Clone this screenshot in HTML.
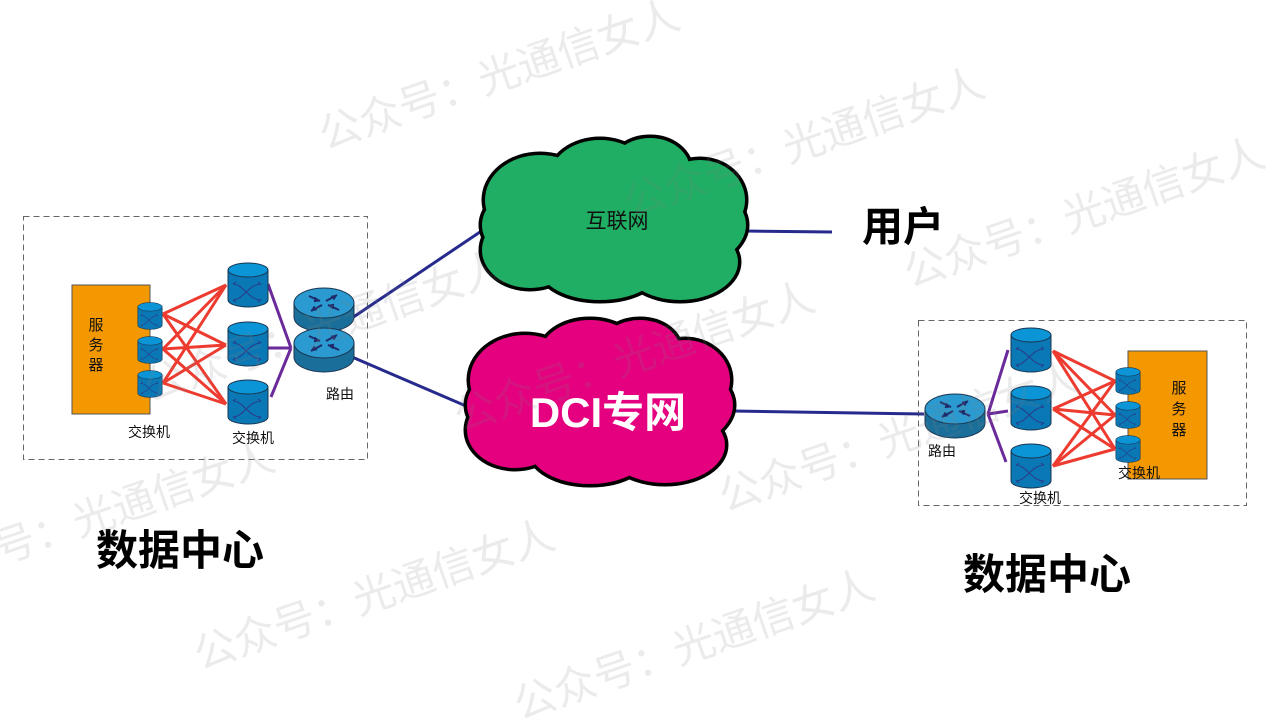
<!DOCTYPE html>
<html><head><meta charset="utf-8"><style>
html,body{margin:0;padding:0;background:#fff;}
svg{display:block;font-family:"Liberation Sans","Noto Sans CJK SC",sans-serif;}
</style></head><body>
<svg width="1280" height="720" viewBox="0 0 1280 720" xmlns="http://www.w3.org/2000/svg">
<defs>
 <symbol id="sw" viewBox="0 0 42 46" overflow="visible">
  <path d="M1,8 L1,38 A20,7 0 0 0 41,38 L41,8 Z" fill="#0a78b4" stroke="#1a3550" stroke-width="1"/>
  <ellipse cx="21" cy="8" rx="20" ry="7" fill="#0b95d6" stroke="#1a3550" stroke-width="1"/>
  <path d="M6,22 C16,22 22,38 34,38 M6,38 C16,38 22,22 34,22" fill="none" stroke="#2a3a8a" stroke-width="1"/>
  <path d="M6,22 l3,-2 M6,38 l3,2 M34,22 l-3,-2 M34,38 l-3,2" stroke="#2a3a8a" stroke-width="1"/>
 </symbol>
 <symbol id="rt" viewBox="0 0 62 46" overflow="visible">
  <path d="M1,16 L1,30 A30,15 0 0 0 61,30 L61,16 Z" fill="#1a6e9a" stroke="#1a3550" stroke-width="1"/>
  <ellipse cx="31" cy="16" rx="30" ry="15" fill="#2a9ad0" stroke="#1a3550" stroke-width="1"/>
  <g stroke="#1e2a6a" stroke-width="2" fill="#1e2a6a">
   <line x1="16" y1="9" x2="27" y2="14"/><line x1="46" y1="23" x2="35" y2="18"/>
   <line x1="44" y1="8" x2="33" y2="14"/><line x1="18" y1="24" x2="29" y2="18"/>
   <path d="M27,14 l-5,-4 l-1,5z" stroke-width="0.5"/><path d="M35,18 l5,4 l1,-5z" stroke-width="0.5"/>
   <path d="M44,8 l-6,1 l3,4z" stroke-width="0.5"/><path d="M18,24 l6,-1 l-3,-4z" stroke-width="0.5"/>
  </g>
 </symbol>
</defs>

<!-- dashed boxes -->
<rect x="23.5" y="216.5" width="344" height="243" fill="none" stroke="#666" stroke-dasharray="6,4"/>
<rect x="918.5" y="320.5" width="328" height="185" fill="none" stroke="#666" stroke-dasharray="6,4"/>

<!-- navy links -->
<g stroke="#262a8c" stroke-width="3">
 <line x1="352" y1="318" x2="480" y2="232"/>
 <line x1="352" y1="357" x2="466" y2="406"/>
 <line x1="745" y1="231" x2="832" y2="232"/>
 <line x1="733" y1="411" x2="924" y2="414"/>
</g>

<!-- clouds -->
<g stroke="#000" stroke-width="7">
 <ellipse cx="614" cy="225" rx="132" ry="60"/>
 <ellipse cx="540" cy="200" rx="55" ry="45"/>
 <ellipse cx="600" cy="178" rx="50" ry="38"/>
 <ellipse cx="650" cy="170" rx="40" ry="32"/>
 <ellipse cx="700" cy="200" rx="45" ry="40"/>
 <ellipse cx="530" cy="250" rx="48" ry="38"/>
 <ellipse cx="600" cy="268" rx="60" ry="32"/>
 <ellipse cx="680" cy="262" rx="58" ry="38"/>
 <ellipse cx="600" cy="405" rx="133" ry="60"/>
 <ellipse cx="525" cy="380" rx="55" ry="45"/>
 <ellipse cx="590" cy="355" rx="50" ry="35"/>
 <ellipse cx="640" cy="350" rx="40" ry="30"/>
 <ellipse cx="685" cy="380" rx="45" ry="40"/>
 <ellipse cx="515" cy="430" rx="48" ry="38"/>
 <ellipse cx="590" cy="450" rx="60" ry="34"/>
 <ellipse cx="665" cy="445" rx="60" ry="38"/>
</g>
<g fill="#1fae63">
 <ellipse cx="614" cy="225" rx="132" ry="60"/>
 <ellipse cx="540" cy="200" rx="55" ry="45"/>
 <ellipse cx="600" cy="178" rx="50" ry="38"/>
 <ellipse cx="650" cy="170" rx="40" ry="32"/>
 <ellipse cx="700" cy="200" rx="45" ry="40"/>
 <ellipse cx="530" cy="250" rx="48" ry="38"/>
 <ellipse cx="600" cy="268" rx="60" ry="32"/>
 <ellipse cx="680" cy="262" rx="58" ry="38"/>
</g>
<g fill="#e4007f">
 <ellipse cx="600" cy="405" rx="133" ry="60"/>
 <ellipse cx="525" cy="380" rx="55" ry="45"/>
 <ellipse cx="590" cy="355" rx="50" ry="35"/>
 <ellipse cx="640" cy="350" rx="40" ry="30"/>
 <ellipse cx="685" cy="380" rx="45" ry="40"/>
 <ellipse cx="515" cy="430" rx="48" ry="38"/>
 <ellipse cx="590" cy="450" rx="60" ry="34"/>
 <ellipse cx="665" cy="445" rx="60" ry="38"/>
</g>
<text x="617" y="228" font-size="21" text-anchor="middle" fill="#111">互联网</text>
<text x="608" y="427" font-size="42" font-weight="bold" text-anchor="middle" fill="#fff">DCI专网</text>
<text x="903" y="241" font-size="41" font-weight="bold" text-anchor="middle" fill="#000">用户</text>

<!-- LEFT DC -->
<rect x="72" y="285" width="78" height="129" fill="#f39800" stroke="#555"/>
<g font-size="15" fill="#111" text-anchor="middle">
 <text x="96" y="330">服</text><text x="96" y="350">务</text><text x="96" y="370">器</text>
</g>
<g stroke="#ee3b30" stroke-width="3">
 <line x1="163" y1="314" x2="226" y2="285"/><line x1="163" y1="314" x2="226" y2="345"/><line x1="163" y1="314" x2="226" y2="404"/>
 <line x1="163" y1="349" x2="226" y2="285"/><line x1="163" y1="349" x2="226" y2="345"/><line x1="163" y1="349" x2="226" y2="404"/>
 <line x1="163" y1="383" x2="226" y2="285"/><line x1="163" y1="383" x2="226" y2="345"/><line x1="163" y1="383" x2="226" y2="404"/>
</g>
<g stroke="#6a2a9a" stroke-width="3" fill="none">
 <line x1="268" y1="284" x2="291" y2="348"/><line x1="268" y1="348" x2="291" y2="348"/><line x1="271" y1="397" x2="291" y2="348"/>
</g>
<use href="#sw" x="137" y="302" width="26" height="28"/>
<use href="#sw" x="137" y="336" width="26" height="28"/>
<use href="#sw" x="137" y="370" width="26" height="28"/>
<use href="#sw" x="226" y="262" width="44" height="46"/>
<use href="#sw" x="226" y="321" width="44" height="46"/>
<use href="#sw" x="226" y="379" width="44" height="46"/>
<use href="#rt" x="292" y="287" width="64" height="46"/>
<use href="#rt" x="292" y="327" width="64" height="46"/>
<g font-size="14" fill="#111" text-anchor="middle">
 <text x="149" y="437">交换机</text>
 <text x="253" y="443">交换机</text>
 <text x="340" y="399">路由</text>
</g>
<text x="180" y="565" font-size="42" font-weight="bold" text-anchor="middle" fill="#000">数据中心</text>

<!-- RIGHT DC -->
<rect x="1128" y="351" width="79" height="128" fill="#f39800" stroke="#555"/>
<g font-size="15" fill="#111" text-anchor="middle">
 <text x="1179" y="393">服</text><text x="1179" y="414">务</text><text x="1179" y="435">器</text>
</g>
<g stroke="#ee3b30" stroke-width="3">
 <line x1="1053" y1="351" x2="1115" y2="381"/><line x1="1053" y1="351" x2="1115" y2="415"/><line x1="1053" y1="351" x2="1115" y2="449"/>
 <line x1="1053" y1="409" x2="1115" y2="381"/><line x1="1053" y1="409" x2="1115" y2="415"/><line x1="1053" y1="409" x2="1115" y2="449"/>
 <line x1="1053" y1="466" x2="1115" y2="381"/><line x1="1053" y1="466" x2="1115" y2="415"/><line x1="1053" y1="466" x2="1115" y2="449"/>
</g>
<g stroke="#6a2a9a" stroke-width="3" fill="none">
 <line x1="1008" y1="350" x2="988" y2="414"/><line x1="1008" y1="411" x2="988" y2="414"/><line x1="1006" y1="462" x2="988" y2="414"/>
</g>
<use href="#sw" x="1009" y="327" width="44" height="46"/>
<use href="#sw" x="1009" y="385" width="44" height="46"/>
<use href="#sw" x="1009" y="443" width="44" height="46"/>
<use href="#sw" x="1115" y="367" width="26" height="28"/>
<use href="#sw" x="1115" y="401" width="26" height="28"/>
<use href="#sw" x="1115" y="435" width="26" height="28"/>
<use href="#rt" x="923" y="393" width="64" height="46"/>
<g font-size="14" fill="#111" text-anchor="middle">
 <text x="942" y="456">路由</text>
 <text x="1040" y="503">交换机</text>
 <text x="1139" y="478">交换机</text>
</g>
<text x="1047" y="589" font-size="42" font-weight="bold" text-anchor="middle" fill="#000">数据中心</text>

<!-- watermarks on top -->
<g fill="#808080" fill-opacity="0.16" font-size="42" font-family="Liberation Sans, Noto Sans CJK SC, sans-serif">
 <text transform="translate(325,150) rotate(-19)">公众号：光通信女人</text>
 <text transform="translate(630,218) rotate(-19)">公众号：光通信女人</text>
 <text transform="translate(910,288) rotate(-19)">公众号：光通信女人</text>
 <text transform="translate(150,402) rotate(-19)">公众号：光通信女人</text>
 <text transform="translate(460,432) rotate(-19)">公众号：光通信女人</text>
 <text transform="translate(725,512) rotate(-19)">公众号：光通信女人</text>
 <text transform="translate(-80,592) rotate(-19)">公众号：光通信女人</text>
 <text transform="translate(200,670) rotate(-19)">公众号：光通信女人</text>
 <text transform="translate(520,720) rotate(-19)">公众号：光通信女人</text>
</g>
</svg>
</body></html>
